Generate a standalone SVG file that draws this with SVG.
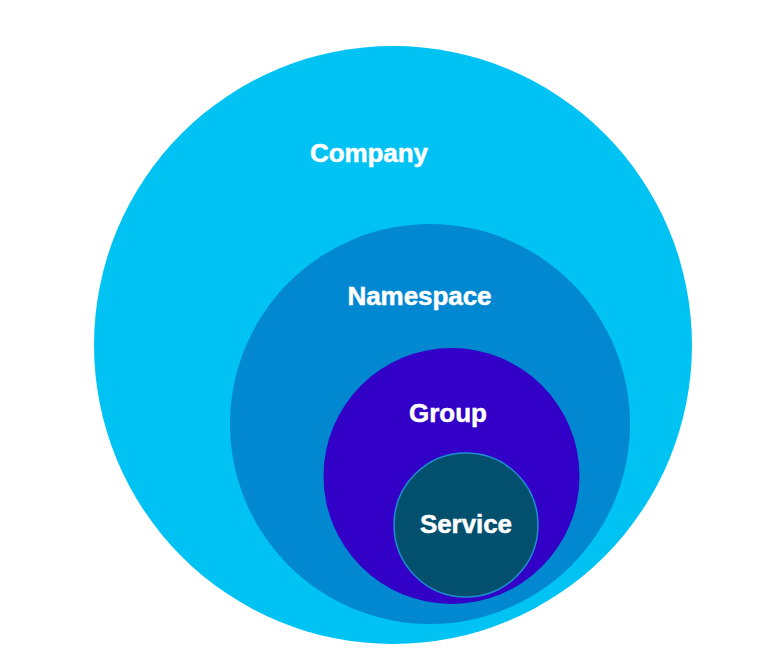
<svg xmlns="http://www.w3.org/2000/svg" width="779" height="661" viewBox="0 0 779 661">
<style>
.lbl{font-family:"Liberation Sans",Arial,Helvetica,sans-serif;font-weight:bold;font-size:26px;fill:#ffffff;stroke:#ffffff;stroke-width:0.5;text-anchor:middle}
</style>
<rect x="0" y="0" width="779" height="661" fill="#ffffff"/>
<g id="company">
<circle cx="393" cy="345" r="299" fill="#00c3f4"/>
<text class="lbl" x="369" y="162" textLength="118">Company</text>
</g>
<g id="namespace">
<circle cx="430" cy="424" r="200" fill="#0288d1"/>
<text class="lbl" x="419.5" y="305" textLength="144">Namespace</text>
</g>
<g id="group">
<circle cx="451.5" cy="476" r="128" fill="#3200c6"/>
<text class="lbl" x="448" y="422" textLength="78">Group</text>
</g>
<g id="service">
<circle cx="466" cy="525" r="72" fill="#03506e" stroke="#1b8fd0" stroke-width="1.5"/>
<text class="lbl" x="466" y="533" textLength="92">Service</text>
</g>
<g id="connectors"/>
</svg>
